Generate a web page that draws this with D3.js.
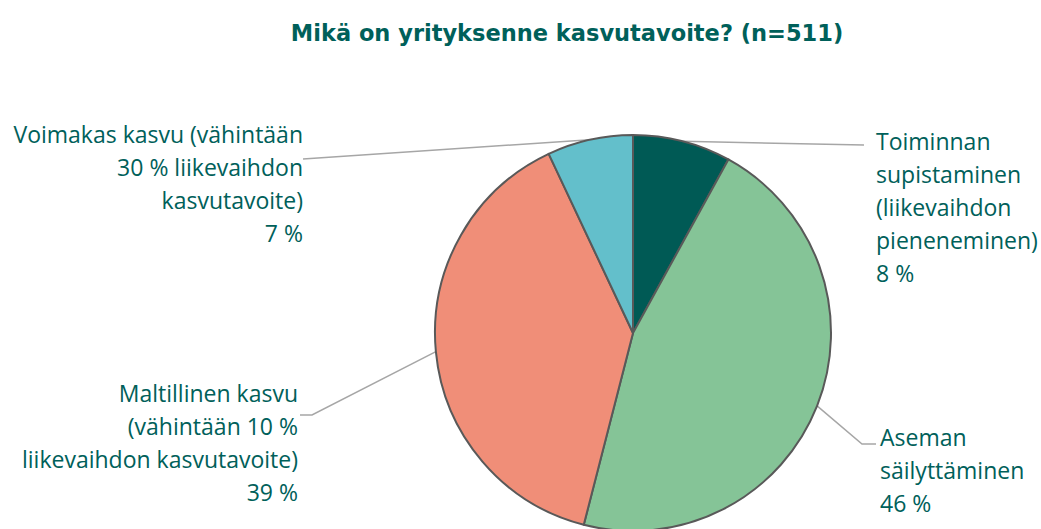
<!DOCTYPE html>
<html>
<head>
<meta charset="utf-8">
<script src="https://cdn.jsdelivr.net/npm/d3@7"></script>
<style>
  body { margin: 0; background: #fff; }
  svg { display: block; }
</style>
</head>
<body>
<div id="chart"></div>
<script>
// data
const title = "Mikä on yrityksenne kasvutavoite? (n=511)";
const categories = [
    "Toiminnan supistaminen (liikevaihdon pieneneminen)",
    "Aseman säilyttäminen",
    "Maltillinen kasvu (vähintään 10 % liikevaihdon kasvutavoite)",
    "Voimakas kasvu (vähintään 30 % liikevaihdon kasvutavoite)"
];
const values = [8, 46, 39, 7];
const labelLines = [
    ["Toiminnan", "supistaminen", "(liikevaihdon", "pieneneminen)"],
    ["Aseman", "säilyttäminen"],
    ["Maltillinen kasvu", "(vähintään 10 %", "liikevaihdon kasvutavoite)"],
    ["Voimakas kasvu (vähintään", "30 % liikevaihdon", "kasvutavoite)"]
];
const colors = ["#005a55", "#85c497", "#f08e78", "#63bfcb"];

const width = 1041, height = 529;
const cx = 633, cy = 333, radius = 198;
const textColor = "#00605a";
const lineH = 33;

// label placement: anchor point (x, first baseline), text anchor, leader end point
const labelLayout = [
    { x: 876, y: 150, anchor: "start", lx: 864, ly: 145, elbow: null },
    { x: 880, y: 446, anchor: "start", lx: 876, ly: 444, elbow: [862, 444] },
    { x: 298, y: 402, anchor: "end",   lx: 300, ly: 415, elbow: [312, 415] },
    { x: 303, y: 143, anchor: "end",   lx: 303, ly: 159, elbow: null }
];

const svg = d3.select("#chart")
    .append("svg")
    .attr("width", width)
    .attr("height", height);

// title
svg.append("text")
    .attr("x", 567)
    .attr("y", 41)
    .attr("text-anchor", "middle")
    .style("font-family", "'DejaVu Sans', sans-serif")
    .style("font-weight", "bold")
    .style("font-size", "22.5px")
    .style("fill", textColor)
    .text(title);

const pie = d3.pie().sort(null).value(d => d)(values);
const arc = d3.arc().innerRadius(0).outerRadius(radius);

const g = svg.append("g").attr("transform", `translate(${cx},${cy})`);

// leader lines (under the pie)
pie.forEach((d, i) => {
    const mid = (d.startAngle + d.endAngle) / 2;
    const px = cx + radius * Math.sin(mid);
    const py = cy - radius * Math.cos(mid);
    const L = labelLayout[i];
    const pts = [[px, py]];
    if (L.elbow) pts.push(L.elbow);
    pts.push([L.lx, L.ly]);
    svg.insert("path", "g")
        .attr("d", d3.line()(pts))
        .attr("fill", "none")
        .attr("stroke", "#a6a6a6")
        .attr("stroke-width", 1.5);
});

// slices
g.selectAll("path")
    .data(pie)
    .enter()
    .append("path")
    .attr("d", arc)
    .attr("fill", (d, i) => colors[i])
    .attr("stroke", "#595959")
    .attr("stroke-width", 2)
    .attr("stroke-linejoin", "round");

// labels
labelLines.forEach((lines, i) => {
    const L = labelLayout[i];
    const t = svg.append("text")
        .attr("text-anchor", L.anchor)
        .style("font-family", "'Open Sans', sans-serif")
        .style("font-size", "23px")
        .style("fill", textColor);
    lines.concat([values[i] + " %"]).forEach((line, j) => {
        t.append("tspan")
            .attr("x", L.x)
            .attr("y", L.y + j * lineH)
            .text(line);
    });
});
</script>
</body>
</html>
